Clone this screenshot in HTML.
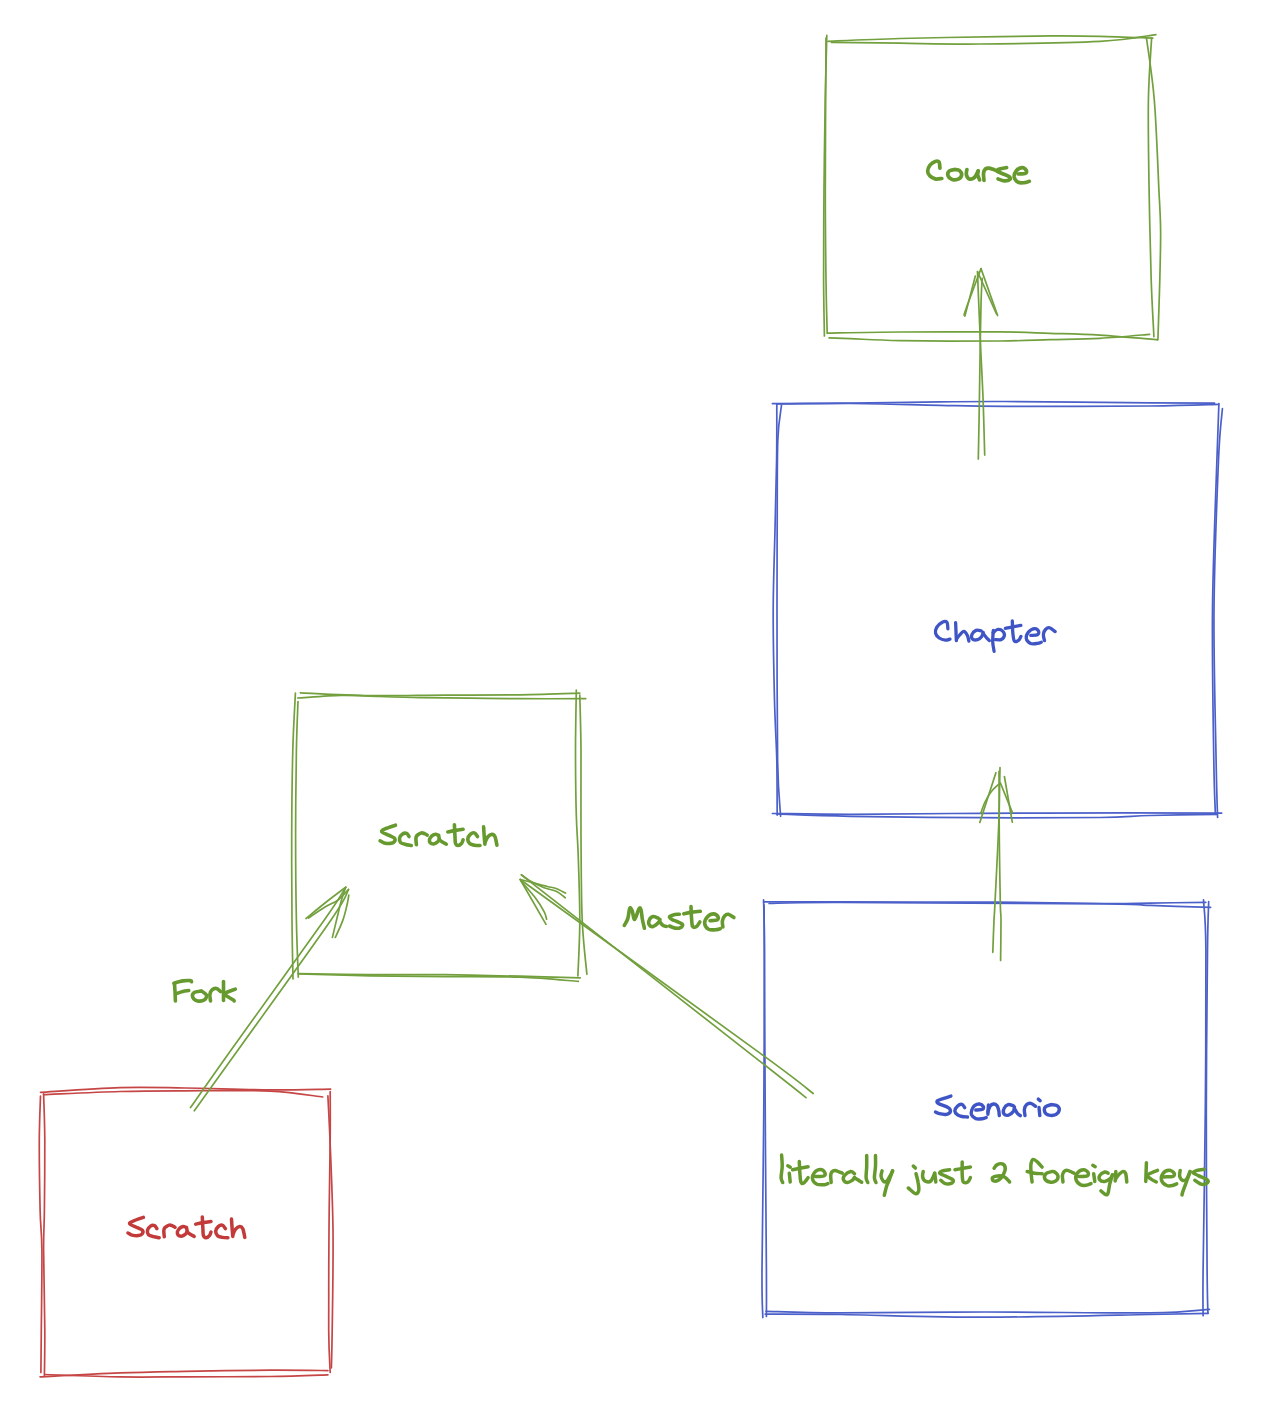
<!DOCTYPE html>
<html><head><meta charset="utf-8"><title>diagram</title>
<style>
html,body{margin:0;padding:0;background:#ffffff;}
body{width:1270px;height:1422px;overflow:hidden;}
svg{display:block;}
text{font-family:"Liberation Sans",sans-serif;}
</style></head>
<body>
<svg width="1270" height="1422" viewBox="0 0 1270 1422">
<rect width="1270" height="1422" fill="#ffffff"/>
<g fill="none" stroke-width="1.7" stroke-linecap="round" stroke-linejoin="round">
<path d="M827.9 41.3C839.9 40.8 871.3 39.3 900.0 38.5C928.7 37.7 975.0 37.0 1000.0 36.6C1025.0 36.2 1033.3 36.0 1050.0 35.9C1066.7 35.8 1082.9 35.9 1100.0 36.3C1117.1 36.7 1144.0 37.8 1152.8 38.1" stroke="#73a03e"/>
<path d="M831.5 42.4C842.9 42.5 875.3 42.9 900.0 43.2C924.7 43.5 946.2 44.3 979.5 44.0C1012.8 43.7 1070.6 42.9 1100.0 41.3C1129.4 39.7 1146.6 35.7 1155.9 34.6" stroke="#73a03e"/>
<path d="M826.8 35.4C826.5 46.2 825.7 74.2 825.2 100.0C824.7 125.8 824.3 160.0 824.0 190.0C823.7 220.0 823.5 255.7 823.6 280.0C823.7 304.3 824.3 326.6 824.4 335.9" stroke="#73a03e"/>
<path d="M826.0 38.0C825.9 63.3 825.3 149.7 825.3 190.0C825.3 230.3 825.7 256.1 826.0 280.0C826.3 303.9 827.0 324.6 827.2 333.5" stroke="#73a03e"/>
<path d="M1146.5 38.1C1147.8 48.4 1152.2 74.7 1154.3 100.0C1156.4 125.3 1157.9 168.4 1158.9 190.0C1160.0 211.6 1160.4 214.5 1160.6 229.5C1160.8 244.5 1160.2 261.6 1159.8 280.0C1159.3 298.4 1158.2 329.8 1157.9 339.8" stroke="#73a03e"/>
<path d="M1151.6 38.1C1151.1 48.4 1148.8 74.7 1148.4 100.0C1148.0 125.3 1148.6 160.0 1149.1 190.0C1149.6 220.0 1150.4 255.6 1151.2 280.0C1152.0 304.4 1153.5 327.2 1153.9 336.7" stroke="#73a03e"/>
<path d="M827.6 333.1C839.7 332.9 871.3 332.2 900.0 332.0C928.7 331.8 975.0 331.7 1000.0 331.9C1025.0 332.1 1033.3 332.8 1050.0 333.3C1066.7 333.8 1082.1 334.0 1100.0 335.1C1117.9 336.2 1147.9 339.0 1157.5 339.8" stroke="#73a03e"/>
<path d="M829.1 337.9C832.6 338.0 838.6 338.2 850.4 338.7C862.2 339.1 875.1 340.2 900.0 340.6C924.9 341.0 975.0 341.2 1000.0 341.0C1025.0 340.8 1033.3 340.1 1050.0 339.6C1066.7 339.2 1083.4 339.2 1100.0 338.3C1116.6 337.4 1141.3 335.0 1149.6 334.3" stroke="#73a03e"/>
<path d="M772.4 403.6C785.3 403.5 822.1 403.5 850.0 403.2C877.9 402.9 914.2 402.2 940.0 401.9C965.8 401.6 970.0 401.4 1005.0 401.5C1040.0 401.6 1115.1 402.5 1150.0 402.8C1184.9 403.1 1203.8 403.1 1214.6 403.2" stroke="#4c60c9"/>
<path d="M776.8 404.0C789.0 403.9 822.8 403.3 850.0 403.5C877.2 403.7 914.2 404.9 940.0 405.4C965.8 405.9 970.0 406.2 1005.0 406.3C1040.0 406.4 1114.4 406.3 1150.0 406.0C1185.6 405.7 1207.1 404.7 1218.5 404.4" stroke="#4c60c9"/>
<path d="M776.8 404.0C776.8 413.3 776.9 439.0 776.6 460.0C776.3 481.0 775.6 505.0 775.0 530.0C774.4 555.0 773.3 581.7 773.2 610.0C773.1 638.3 773.9 675.0 774.5 700.0C775.1 725.0 776.3 740.8 776.8 760.0C777.2 779.2 777.1 805.9 777.2 815.1" stroke="#4c60c9"/>
<path d="M781.5 405.2C780.9 411.0 778.5 420.9 777.8 440.0C777.1 459.1 777.3 491.7 777.2 520.0C777.1 548.3 776.9 570.0 777.0 610.0C777.1 650.0 777.0 725.6 777.6 760.0C778.2 794.4 780.1 806.9 780.6 816.3" stroke="#4c60c9"/>
<path d="M1218.9 403.6C1218.6 413.0 1218.0 425.6 1216.9 460.0C1215.8 494.4 1213.0 560.0 1212.5 610.0C1212.0 660.0 1213.3 726.0 1213.8 760.0C1214.3 794.0 1215.1 805.2 1215.4 814.3" stroke="#4c60c9"/>
<path d="M1222.4 408.7C1221.8 417.2 1219.9 426.4 1218.5 460.0C1217.1 493.6 1214.4 560.0 1214.0 610.0C1213.6 660.0 1215.5 725.4 1216.1 760.0C1216.7 794.6 1217.3 807.9 1217.6 817.5" stroke="#4c60c9"/>
<path d="M772.4 813.5C785.3 813.6 815.4 814.3 850.0 814.3C884.6 814.3 934.2 813.5 980.0 813.3C1025.8 813.1 1084.7 812.9 1125.0 812.9C1165.3 812.9 1205.6 813.1 1221.7 813.1" stroke="#4c60c9"/>
<path d="M776.8 814.0C789.0 814.4 816.1 815.7 850.0 816.3C883.9 816.9 938.3 817.5 980.0 817.7C1021.7 817.9 1071.7 817.9 1100.0 817.5C1128.3 817.1 1130.5 816.0 1150.0 815.5C1169.5 815.0 1205.8 814.5 1216.9 814.3" stroke="#4c60c9"/>
<path d="M300.3 692.8C311.9 693.3 345.9 695.2 370.0 695.6C394.1 696.0 420.0 695.2 445.0 695.1C470.0 695.0 497.5 695.1 520.0 694.8C542.5 694.5 569.8 693.5 579.8 693.2" stroke="#73a03e"/>
<path d="M297.6 698.0C304.8 697.6 328.8 695.7 340.9 695.4C353.0 695.1 356.8 695.8 370.0 696.2C383.2 696.6 403.3 697.3 420.0 697.6C436.7 697.9 453.3 698.0 470.0 698.2C486.7 698.4 500.7 698.6 520.0 698.7C539.3 698.8 574.8 698.7 585.7 698.7" stroke="#73a03e"/>
<path d="M295.4 693.2C295.0 702.7 293.4 726.4 292.8 750.0C292.2 773.6 291.8 806.7 291.7 835.0C291.6 863.3 291.8 896.0 292.0 920.0C292.2 944.0 292.8 969.2 293.0 979.0" stroke="#73a03e"/>
<path d="M298.0 701.5C297.7 709.6 296.8 727.8 296.4 750.0C296.0 772.2 295.6 806.7 295.6 835.0C295.6 863.3 295.9 896.3 296.4 920.0C296.8 943.7 298.0 967.6 298.3 977.1" stroke="#73a03e"/>
<path d="M576.3 690.1C576.2 700.1 575.5 729.2 575.5 750.0C575.5 770.8 575.8 797.5 576.3 815.0C576.8 832.5 577.6 837.5 578.2 855.0C578.8 872.5 579.8 899.9 579.8 920.0C579.8 940.1 578.2 966.6 577.9 975.9" stroke="#73a03e"/>
<path d="M579.8 695.2C580.0 704.3 580.8 726.7 581.0 750.0C581.2 773.3 580.8 806.7 581.0 835.0C581.2 863.3 581.2 896.8 582.2 920.0C583.2 943.2 586.1 965.2 586.9 974.3" stroke="#73a03e"/>
<path d="M298.3 973.5C310.2 973.7 345.6 974.4 370.0 974.6C394.4 974.8 420.0 974.4 445.0 974.7C470.0 975.0 497.5 975.7 520.0 976.2C542.5 976.7 570.2 977.6 580.2 977.9" stroke="#73a03e"/>
<path d="M298.3 974.0C310.2 974.3 345.6 975.4 370.0 975.8C394.4 976.2 420.0 976.4 445.0 976.6C470.0 976.8 497.8 976.4 520.0 977.2C542.2 978.0 568.6 980.7 578.3 981.4" stroke="#73a03e"/>
<path d="M763.6 901.9C776.3 901.9 801.4 901.8 840.0 901.9C878.6 902.0 950.8 901.9 995.0 902.2C1039.2 902.5 1079.2 903.4 1105.0 903.5C1130.8 903.6 1133.2 903.3 1150.0 903.1C1166.8 902.9 1196.6 902.4 1205.9 902.3" stroke="#4c60c9"/>
<path d="M769.1 903.5C780.9 903.3 784.0 902.4 840.0 902.5C896.0 902.6 1053.3 903.4 1105.0 903.9C1156.7 904.4 1132.4 904.8 1150.0 905.4C1167.6 906.0 1200.5 907.1 1210.6 907.4" stroke="#4c60c9"/>
<path d="M763.6 899.9C763.7 908.2 764.4 915.0 764.4 950.0C764.4 985.0 764.2 1056.7 763.8 1110.0C763.4 1163.3 762.2 1235.4 762.0 1270.0C761.8 1304.6 762.7 1309.7 762.8 1317.6" stroke="#4c60c9"/>
<path d="M764.0 905.0C764.1 912.5 764.2 915.8 764.4 950.0C764.6 984.2 764.9 1056.7 765.2 1110.0C765.5 1163.3 766.2 1235.6 766.4 1270.0C766.6 1304.4 766.4 1308.8 766.4 1316.5" stroke="#4c60c9"/>
<path d="M1203.5 899.9C1203.9 908.2 1205.6 915.0 1205.9 950.0C1206.2 985.0 1205.8 1056.7 1205.3 1110.0C1204.8 1163.3 1203.5 1235.7 1203.1 1270.0C1202.7 1304.3 1203.1 1308.1 1203.1 1315.7" stroke="#4c60c9"/>
<path d="M1208.7 901.5C1208.5 909.6 1207.9 915.2 1207.5 950.0C1207.1 984.8 1206.4 1056.7 1206.3 1110.0C1206.2 1163.3 1206.8 1236.1 1207.1 1270.0C1207.4 1303.9 1207.8 1306.1 1207.9 1313.3" stroke="#4c60c9"/>
<path d="M766.0 1311.3C778.3 1311.6 803.5 1312.8 840.0 1312.9C876.5 1313.0 933.3 1312.0 985.0 1312.0C1036.7 1312.0 1112.6 1313.3 1150.0 1312.9C1187.4 1312.5 1199.5 1310.0 1209.4 1309.4" stroke="#4c60c9"/>
<path d="M765.2 1314.1C777.7 1314.2 803.4 1314.0 840.0 1314.5C876.6 1315.0 933.3 1317.2 985.0 1317.2C1036.7 1317.2 1112.8 1315.2 1150.0 1314.5C1187.2 1313.8 1198.6 1313.5 1208.3 1313.3" stroke="#4c60c9"/>
<path d="M40.5 1092.3C53.8 1091.5 95.9 1088.3 120.0 1087.6C144.1 1086.9 160.0 1087.6 185.0 1088.0C210.0 1088.4 245.7 1089.7 270.0 1089.9C294.3 1090.1 320.5 1089.2 330.6 1089.1" stroke="#c64646"/>
<path d="M43.6 1094.6C56.3 1094.1 96.4 1092.1 120.0 1091.5C143.6 1090.9 160.0 1090.9 185.0 1090.8C210.0 1090.7 247.0 1090.1 270.0 1091.1C293.0 1092.1 314.0 1096.0 322.8 1097.0" stroke="#c64646"/>
<path d="M40.5 1096.2C40.3 1103.5 39.4 1121.0 39.3 1140.0C39.2 1159.0 39.7 1191.7 40.1 1210.0C40.5 1228.3 41.7 1230.0 41.9 1250.0C42.1 1270.0 41.5 1309.6 41.3 1330.0C41.1 1350.4 41.0 1365.4 40.9 1372.5" stroke="#c64646"/>
<path d="M43.6 1093.9C43.8 1101.6 44.7 1120.7 44.8 1140.0C44.9 1159.3 44.6 1191.7 44.4 1210.0C44.2 1228.3 43.5 1230.0 43.6 1250.0C43.7 1270.0 44.7 1309.0 44.8 1330.0C44.9 1351.0 44.5 1368.1 44.4 1375.7" stroke="#c64646"/>
<path d="M330.2 1091.5C330.2 1099.6 330.4 1116.9 330.2 1140.0C330.0 1163.1 329.2 1198.3 329.0 1230.0C328.8 1261.7 328.5 1306.2 328.7 1330.0C328.9 1353.8 329.9 1365.4 330.2 1372.5" stroke="#c64646"/>
<path d="M327.9 1095.8C328.2 1103.2 329.1 1117.6 330.0 1140.0C330.9 1162.4 332.6 1198.3 333.0 1230.0C333.4 1261.7 332.5 1307.0 332.2 1330.0C331.9 1353.0 331.5 1361.5 331.4 1367.8" stroke="#c64646"/>
<path d="M40.1 1376.9C53.4 1376.2 95.8 1373.8 120.0 1372.9C144.2 1372.0 160.0 1371.8 185.0 1371.3C210.0 1370.8 246.2 1370.3 270.0 1370.2C293.8 1370.1 318.2 1370.5 327.9 1370.6" stroke="#c64646"/>
<path d="M44.8 1374.5C57.3 1374.9 96.6 1376.5 120.0 1376.9C143.4 1377.3 160.0 1376.9 185.0 1376.8C210.0 1376.7 246.2 1376.8 270.0 1376.5C293.8 1376.2 318.2 1375.2 327.9 1374.9" stroke="#c64646"/>
<path d="M977.5 271.7C977.7 276.4 978.1 288.6 978.6 300.0C979.1 311.4 979.5 323.3 980.3 340.0C981.0 356.7 982.4 380.8 983.1 400.0C983.8 419.2 984.4 445.9 984.7 455.1" stroke="#73a03e"/>
<path d="M982.2 278.3C982.0 281.9 981.4 289.7 981.1 300.0C980.8 310.3 980.6 323.3 980.3 340.0C980.0 356.7 979.7 380.2 979.4 400.0C979.1 419.8 978.5 449.1 978.3 458.9" stroke="#73a03e"/>
<path d="M964.9 316.1L975.3 276.1" stroke="#73a03e"/>
<path d="M964.0 315.0C964.5 313.5 964.2 313.7 967.0 306.0C969.8 298.3 978.7 274.8 981.0 268.6" stroke="#73a03e"/>
<path d="M997.6 315.5L981.0 268.6" stroke="#73a03e"/>
<path d="M996.5 314.0L977.5 271.7" stroke="#73a03e"/>
<path d="M992.8 952.3C993.0 946.9 993.6 928.3 994.0 920.0C994.4 911.7 994.2 919.3 995.0 902.6C995.8 885.9 998.2 841.9 998.9 820.0C999.6 798.1 999.0 779.5 999.0 771.4" stroke="#73a03e"/>
<path d="M1000.6 960.5C1000.7 953.8 1001.0 929.6 1001.0 920.0C1001.0 910.4 1000.6 919.3 1000.3 902.6C1000.0 885.9 999.2 842.5 999.2 820.0C999.2 797.5 999.9 776.3 1000.0 767.6" stroke="#73a03e"/>
<path d="M979.8 822.4L995.9 772.7" stroke="#73a03e"/>
<path d="M980.8 813.0C981.5 811.2 983.3 805.5 985.0 802.0C986.7 798.5 988.7 795.0 991.0 792.0C993.3 789.0 997.7 785.3 999.0 784.0" stroke="#73a03e"/>
<path d="M1012.3 822.1L1004.4 776.5" stroke="#73a03e"/>
<path d="M1012.3 812.4L1000.3 782.8" stroke="#73a03e"/>
<path d="M190.5 1107.6C197.3 1098.0 208.8 1081.3 231.1 1050.0C253.4 1018.7 305.2 947.1 324.3 920.0C343.4 892.9 342.1 892.8 345.7 887.3" stroke="#73a03e"/>
<path d="M194.3 1110.8C201.6 1100.7 215.2 1081.8 238.0 1050.0C260.8 1018.2 312.6 946.8 331.0 920.0C349.4 893.2 345.6 894.6 348.5 889.5" stroke="#73a03e"/>
<path d="M306.0 918.5C309.2 915.9 318.4 908.2 325.0 903.0C331.6 897.8 342.2 889.9 345.7 887.3" stroke="#73a03e"/>
<path d="M308.5 918.0C311.2 916.2 320.1 910.0 325.0 907.0C329.9 904.0 333.9 903.1 337.8 900.2C341.7 897.3 346.7 891.3 348.5 889.5" stroke="#73a03e"/>
<path d="M332.4 937.4C333.3 933.5 336.5 920.2 338.0 914.0C339.5 907.8 340.2 904.5 341.5 900.0C342.8 895.5 345.0 889.4 345.7 887.3" stroke="#73a03e"/>
<path d="M335.3 937.4C336.6 934.6 340.9 925.8 342.8 920.4C344.8 915.0 346.0 909.2 347.0 905.0C348.0 900.8 348.5 896.8 348.8 895.2" stroke="#73a03e"/>
<path d="M813.2 1093.5C804.3 1086.8 808.8 1088.8 760.0 1053.1C711.2 1017.4 560.2 908.4 520.2 879.5" stroke="#73a03e"/>
<path d="M806.0 1097.6C798.3 1091.5 807.4 1098.4 760.0 1061.3C712.6 1024.2 561.2 905.9 521.4 874.8" stroke="#73a03e"/>
<path d="M520.2 879.5C521.9 879.9 525.7 880.8 530.2 882.0C534.7 883.2 543.0 885.5 547.2 886.5C551.4 887.5 552.4 887.2 555.4 888.3C558.4 889.4 563.8 892.3 565.5 893.1" stroke="#73a03e"/>
<path d="M521.4 874.8C522.9 875.8 526.4 879.0 530.2 881.1C534.0 883.2 539.7 886.0 544.1 887.7C548.5 889.4 553.2 889.8 556.7 891.5C560.2 893.2 563.8 896.8 565.2 897.8" stroke="#73a03e"/>
<path d="M520.2 879.5L546.0 924.3" stroke="#73a03e"/>
<path d="M521.0 881.0C523.4 883.8 531.4 892.7 535.3 897.8C539.1 902.9 542.2 908.1 544.1 911.7C546.0 915.3 546.2 918.0 546.6 919.2" stroke="#73a03e"/>
</g>
<g fill="none" stroke-width="3.7" stroke-linecap="round" stroke-linejoin="round">
<g stroke="#679a2e" stroke-width="3.7">
<path d="M939.9 168.1C939.8 167.1 939.8 163.0 939.0 161.9C938.2 160.8 936.7 160.9 935.2 161.4C933.7 161.9 931.2 163.6 930.0 165.2C928.8 166.8 927.8 169.2 927.7 170.9C927.6 172.6 928.4 174.3 929.6 175.6C930.9 176.9 933.2 178.4 935.2 178.9C937.2 179.4 940.7 178.6 941.8 178.5"/>
<path d="M955.1 169.5C954.1 169.7 950.6 169.9 949.4 170.9C948.2 171.9 947.5 174.2 948.0 175.6C948.5 177.0 950.4 178.8 952.2 179.4C954.0 180.0 957.2 179.7 958.8 178.9C960.4 178.1 961.6 176.1 961.7 174.7C961.8 173.3 960.4 171.3 959.3 170.4C958.2 169.5 955.8 169.7 955.1 169.5"/>
<path d="M966.9 169.5C966.8 170.4 966.0 173.1 966.4 174.7C966.8 176.3 967.9 178.4 969.2 178.9C970.5 179.4 972.9 178.8 974.4 177.5C975.9 176.2 977.6 172.0 978.2 170.9"/>
<path d="M978.2 170.9C978.1 171.5 977.5 173.2 977.7 174.7C977.9 176.2 979.3 179.0 979.6 179.9"/>
<path d="M984.0 180.3C983.9 179.1 983.3 175.2 983.5 173.3C983.7 171.4 984.4 169.9 985.4 169.0C986.4 168.1 987.6 167.9 989.2 168.1C990.8 168.3 993.9 169.7 994.8 170.0"/>
<path d="M1006.6 167.6C1005.4 167.8 1001.2 168.4 999.6 169.0C998.0 169.6 996.4 170.2 996.7 170.9C997.0 171.6 999.5 172.4 1001.5 173.3C1003.5 174.2 1007.6 175.6 1009.0 176.6C1010.4 177.6 1010.8 178.7 1010.0 179.4C1009.2 180.1 1006.3 180.9 1004.3 180.8C1002.3 180.7 999.1 179.2 998.1 178.9"/>
<path d="M1018.5 174.0C1019.7 173.9 1024.2 174.0 1025.5 173.4C1026.8 172.8 1026.8 171.2 1026.2 170.2C1025.6 169.2 1023.6 167.5 1022.0 167.6C1020.4 167.7 1017.8 168.9 1016.5 170.5C1015.2 172.1 1014.0 175.1 1014.2 177.0C1014.5 178.9 1016.4 181.2 1018.0 182.2C1019.6 183.1 1022.2 182.8 1024.1 182.7C1026.0 182.5 1028.4 181.5 1029.3 181.3"/>
</g>
<g stroke="#3f55c6" stroke-width="3.3">
<path d="M947.9 628.8C947.7 627.7 947.8 623.3 946.9 622.2C946.0 621.1 944.0 621.4 942.3 622.2C940.6 623.1 937.8 625.4 936.7 627.3C935.6 629.2 935.2 631.6 935.6 633.4C936.0 635.2 937.6 636.9 939.2 638.0C940.8 639.1 943.6 639.9 945.4 640.1C947.2 640.3 949.2 639.3 950.0 639.1"/>
<path d="M955.6 622.7C955.7 624.2 955.9 629.0 956.0 632.0C956.1 635.0 956.3 639.2 956.4 640.6"/>
<path d="M956.6 639.1C957.1 638.4 958.5 636.3 959.7 635.0C960.9 633.7 962.5 631.3 963.8 631.4C965.1 631.5 966.5 633.9 967.4 635.5C968.2 637.1 968.6 640.2 968.9 641.1"/>
<path d="M981.2 630.9C980.4 630.8 977.6 629.8 976.1 630.4C974.6 631.0 972.6 632.9 972.0 634.4C971.4 635.9 971.6 638.2 972.5 639.1C973.4 640.0 976.1 640.0 977.6 639.6C979.1 639.2 980.8 637.7 981.7 636.5C982.6 635.3 983.0 633.1 983.2 632.4"/>
<path d="M983.2 633.4C983.7 634.1 985.3 636.3 986.3 637.5C987.3 638.7 988.9 640.1 989.4 640.6"/>
<path d="M993.3 630.5C993.2 632.4 992.6 638.3 992.7 641.8C992.8 645.3 993.9 649.8 994.1 651.4"/>
<path d="M993.1 632.7C993.8 632.2 995.8 629.8 997.4 629.5C999.0 629.2 1001.6 630.0 1002.7 631.1C1003.9 632.2 1004.6 634.5 1004.3 635.9C1004.0 637.3 1002.6 639.0 1001.1 639.6C999.6 640.2 996.2 639.6 995.2 639.6"/>
<path d="M1012.3 620.9C1012.4 623.0 1012.5 630.3 1012.9 633.7C1013.3 637.1 1013.5 640.1 1014.5 641.2C1015.5 642.3 1017.7 641.0 1018.8 640.2C1019.9 639.4 1020.5 637.0 1020.9 636.4"/>
<path d="M1005.4 628.4C1006.7 628.1 1010.4 627.4 1013.0 626.9C1015.6 626.4 1019.6 625.6 1020.9 625.4"/>
<path d="M1030.8 635.3C1031.9 635.2 1036.2 635.5 1037.5 634.8C1038.8 634.1 1039.0 632.3 1038.6 631.3C1038.1 630.3 1036.5 628.5 1034.8 628.6C1033.1 628.7 1029.8 630.4 1028.4 632.1C1027.0 633.8 1026.0 636.7 1026.3 638.6C1026.6 640.5 1028.6 642.6 1030.5 643.4C1032.4 644.2 1035.7 643.6 1037.5 643.4C1039.3 643.2 1040.7 642.5 1041.3 642.3"/>
<path d="M1044.5 640.7C1044.3 639.6 1043.2 636.2 1043.4 634.3C1043.6 632.4 1044.4 630.6 1045.5 629.5C1046.6 628.4 1048.2 627.4 1049.8 627.8C1051.4 628.1 1054.3 631.0 1055.2 631.6"/>
</g>
<g stroke="#679a2e" stroke-width="3.6">
<path d="M395.5 825.2C394.2 825.6 390.0 826.9 387.8 827.8C385.6 828.7 383.1 829.6 382.2 830.4C381.3 831.2 381.5 831.5 382.7 832.4C383.9 833.2 387.4 834.6 389.3 835.5C391.2 836.4 393.5 837.0 394.4 838.0C395.2 839.0 395.1 840.7 394.4 841.6C393.7 842.5 392.1 843.2 390.4 843.4C388.7 843.6 385.9 843.3 384.2 842.9C382.5 842.5 380.8 841.1 380.1 840.8"/>
<path d="M409.0 836.5C408.6 836.0 407.8 833.8 406.7 833.4C405.6 833.0 403.8 833.1 402.6 833.9C401.4 834.7 399.9 836.5 399.6 838.0C399.3 839.5 399.6 841.5 400.6 842.6C401.6 843.7 403.9 843.9 405.7 844.4C407.5 844.9 410.4 845.3 411.3 845.5"/>
<path d="M416.4 844.6C416.3 843.7 415.9 840.4 415.9 839.0C415.9 837.6 416.2 836.7 416.6 836.0C417.0 835.3 417.3 835.1 418.1 834.6C418.9 834.1 420.2 833.1 421.3 832.9C422.4 832.7 423.5 833.2 424.5 833.6C425.5 834.0 426.8 834.9 427.2 835.1"/>
<path d="M438.6 835.3C438.0 835.1 436.4 834.1 435.2 834.3C434.0 834.4 432.6 835.3 431.6 836.2C430.7 837.1 429.7 838.4 429.5 839.5C429.3 840.6 429.5 842.0 430.2 842.8C430.9 843.5 432.4 844.1 433.6 844.0C434.8 843.9 436.3 843.0 437.2 842.2C438.1 841.5 439.0 840.6 439.2 839.5C439.4 838.4 438.7 836.0 438.6 835.3"/>
<path d="M439.2 839.5C439.7 839.9 440.8 841.0 442.0 841.8C443.2 842.6 445.6 843.8 446.3 844.2"/>
<path d="M454.4 824.7C454.5 826.7 454.8 833.4 455.0 836.5C455.2 839.6 455.0 841.7 455.5 843.2C456.0 844.7 457.0 845.5 458.0 845.5C459.0 845.5 460.6 844.5 461.5 843.5C462.4 842.5 462.8 840.4 463.1 839.8"/>
<path d="M447.8 831.9C449.1 831.6 452.9 830.8 455.5 830.4C458.1 830.0 461.8 829.5 463.1 829.3"/>
<path d="M477.5 836.5C477.0 835.9 475.6 833.2 474.4 832.9C473.2 832.5 471.4 833.4 470.3 834.4C469.2 835.4 467.9 837.5 467.8 839.0C467.7 840.5 468.7 842.7 469.8 843.7C470.9 844.7 472.7 844.9 474.4 845.2C476.1 845.5 479.1 845.5 480.0 845.5"/>
<path d="M483.6 826.8C483.7 828.3 484.0 833.1 484.2 836.0C484.4 838.9 484.8 842.8 484.9 844.2"/>
<path d="M484.9 842.6C485.4 841.7 486.5 838.4 487.7 837.0C488.9 835.6 490.6 834.5 491.8 834.4C493.0 834.3 494.0 834.7 494.9 836.5C495.8 838.3 496.6 843.8 496.9 845.2"/>
</g>
<g stroke="#679a2e" stroke-width="3.6">
<path d="M173.9 983.2C175.4 982.8 180.1 981.3 182.8 980.9C185.6 980.5 188.9 980.5 190.4 980.6C191.9 980.7 191.4 981.5 191.6 981.7"/>
<path d="M174.5 983.8C174.6 985.3 174.9 989.9 175.1 992.7C175.2 995.6 175.3 999.5 175.4 1000.9"/>
<path d="M175.7 993.9C176.9 993.5 180.6 992.0 182.8 991.5C185.0 991.0 187.7 990.8 188.7 990.6"/>
<path d="M201.1 990.9C199.9 991.2 195.4 991.6 194.0 992.7C192.6 993.8 192.2 996.0 192.8 997.4C193.4 998.8 195.5 1000.5 197.5 1000.9C199.5 1001.3 203.1 1000.8 204.6 999.8C206.1 998.8 206.8 996.4 206.4 995.0C206.0 993.6 203.0 992.1 202.3 991.5"/>
<path d="M210.5 1000.9C210.4 999.8 209.6 996.3 209.9 994.4C210.2 992.5 211.2 990.7 212.3 989.7C213.4 988.7 215.0 988.2 216.4 988.5C217.8 988.8 219.9 991.0 220.6 991.5"/>
<path d="M223.5 981.5C223.5 983.1 223.5 987.9 223.5 991.0C223.5 994.1 223.5 998.8 223.5 1000.4"/>
<path d="M235.3 989.1C234.2 989.5 230.7 990.7 228.8 991.5C226.9 992.3 224.4 993.1 224.1 993.9C223.8 994.7 225.6 995.2 227.1 996.2C228.6 997.2 231.8 999.0 233.0 999.8C234.2 1000.6 234.0 1000.7 234.2 1000.9"/>
</g>
<g stroke="#679a2e" stroke-width="3.6">
<path d="M624.3 925.4C624.9 924.3 626.9 921.5 627.8 918.6C628.7 915.8 629.0 909.6 629.7 908.3C630.4 907.0 631.4 908.8 632.2 910.7C633.0 912.6 633.5 919.8 634.6 919.5C635.7 919.2 637.9 910.4 639.0 908.8C640.1 907.2 640.4 908.0 641.0 909.8C641.6 911.6 641.8 916.4 642.4 919.5C643.0 922.6 644.1 926.8 644.4 928.3"/>
<path d="M658.0 918.1C657.2 917.9 654.7 916.3 653.2 916.6C651.8 916.9 649.9 918.6 649.3 920.0C648.6 921.4 648.6 923.8 649.3 924.9C649.9 926.0 651.7 926.8 653.2 926.4C654.7 926.0 657.4 923.6 658.5 922.5C659.6 921.4 659.8 920.0 660.0 919.5"/>
<path d="M659.5 921.5C660.1 922.1 661.8 924.6 662.9 925.4C664.0 926.2 665.7 926.2 666.3 926.4"/>
<path d="M679.4 914.3C678.7 914.3 676.6 914.1 675.0 914.5C673.4 914.9 670.0 916.0 669.5 916.8C669.0 917.6 670.8 918.7 672.0 919.5C673.2 920.3 675.2 920.7 677.0 921.5C678.8 922.3 681.9 923.5 682.5 924.5C683.1 925.5 681.8 927.0 680.5 927.6C679.2 928.2 676.8 928.4 675.0 928.1C673.2 927.8 670.4 926.4 669.5 926.0"/>
<path d="M691.0 906.6C691.1 908.4 691.2 914.3 691.5 917.6C691.8 920.9 691.8 925.0 692.6 926.5C693.4 928.0 695.3 927.2 696.5 926.5C697.7 925.8 699.2 922.8 699.8 922.0"/>
<path d="M683.8 913.8C685.2 913.5 689.2 912.5 692.0 912.1C694.8 911.7 698.9 911.4 700.3 911.3"/>
<path d="M710.0 920.7C711.2 920.6 715.9 920.5 717.2 919.9C718.5 919.2 718.6 917.8 718.0 916.8C717.4 915.8 715.2 913.9 713.5 913.9C711.8 913.9 709.0 915.2 707.5 916.8C706.0 918.4 704.5 921.4 704.7 923.5C704.9 925.6 706.9 928.2 708.6 929.2C710.4 930.2 713.3 929.9 715.2 929.8C717.1 929.7 719.4 928.9 720.2 928.7"/>
<path d="M722.9 927.0C722.8 926.0 722.1 922.7 722.4 920.9C722.7 919.1 723.6 917.1 724.6 916.0C725.6 914.9 726.9 914.0 728.4 914.3C729.9 914.6 733.0 917.0 733.9 917.6"/>
</g>
<g stroke="#3f55c6" stroke-width="3.4">
<path d="M950.9 1096.1C949.7 1096.5 946.1 1097.5 943.8 1098.3C941.5 1099.1 938.0 1100.1 937.2 1101.0C936.4 1101.9 937.0 1102.7 938.8 1103.8C940.6 1104.9 946.3 1106.3 948.2 1107.6C950.1 1108.9 950.7 1110.4 950.4 1111.5C950.1 1112.6 948.3 1113.9 946.5 1114.3C944.7 1114.7 941.2 1114.1 939.4 1113.7C937.6 1113.3 936.1 1112.3 935.5 1112.0"/>
<path d="M964.7 1107.6C964.2 1107.0 963.2 1104.6 962.0 1104.3C960.8 1104.0 958.8 1104.9 957.6 1106.0C956.4 1107.1 954.8 1109.4 954.8 1110.9C954.8 1112.4 956.4 1113.9 957.6 1114.8C958.8 1115.7 960.4 1116.1 962.0 1116.5C963.6 1116.9 966.6 1116.9 967.5 1117.0"/>
<path d="M975.8 1110.0C976.9 1109.9 981.4 1109.9 982.6 1109.3C983.8 1108.7 983.7 1107.2 983.2 1106.3C982.7 1105.4 981.0 1104.1 979.5 1104.0C978.0 1103.9 975.8 1104.7 974.5 1105.7C973.2 1106.7 972.3 1108.5 971.8 1110.0C971.3 1111.5 970.8 1113.3 971.5 1114.8C972.2 1116.2 974.0 1118.0 975.8 1118.7C977.6 1119.4 980.7 1118.9 982.4 1118.7C984.1 1118.5 985.6 1117.8 986.2 1117.6"/>
<path d="M988.4 1104.9C988.4 1105.8 988.2 1108.4 988.1 1110.0C988.0 1111.6 987.9 1113.6 987.9 1114.3"/>
<path d="M987.9 1112.0C988.2 1111.0 989.1 1107.6 990.0 1106.3C990.9 1105.0 992.3 1104.1 993.5 1104.0C994.7 1103.9 996.1 1104.6 997.0 1105.7C997.9 1106.8 998.3 1108.8 998.7 1110.4C999.1 1112.1 999.2 1114.7 999.3 1115.6"/>
<path d="M1013.3 1105.7C1012.4 1105.5 1009.6 1104.1 1008.1 1104.6C1006.6 1105.1 1004.7 1107.0 1004.0 1108.6C1003.3 1110.1 1003.2 1112.8 1004.0 1113.9C1004.8 1115.0 1007.1 1115.5 1008.6 1115.1C1010.1 1114.7 1012.3 1113.0 1013.3 1111.6C1014.3 1110.2 1014.3 1107.7 1014.5 1106.9"/>
<path d="M1014.5 1108.6C1015.0 1109.4 1016.4 1112.1 1017.4 1113.3C1018.4 1114.5 1019.8 1115.2 1020.3 1115.6"/>
<path d="M1025.0 1115.6C1024.9 1114.5 1024.1 1111.0 1024.4 1109.2C1024.7 1107.4 1025.6 1105.6 1026.7 1104.6C1027.8 1103.6 1029.3 1103.1 1030.8 1103.4C1032.3 1103.7 1034.7 1105.8 1035.5 1106.3"/>
<path d="M1038.3 1099.1L1040.2 1100.7"/>
<path d="M1039.0 1107.5L1039.8 1115.6"/>
<path d="M1051.2 1104.6C1050.2 1105.0 1046.5 1105.7 1045.4 1106.9C1044.3 1108.2 1044.2 1110.7 1044.8 1112.1C1045.4 1113.5 1047.1 1114.7 1048.9 1115.1C1050.8 1115.5 1054.2 1115.4 1055.9 1114.5C1057.6 1113.6 1059.1 1111.3 1059.3 1109.8C1059.5 1108.3 1058.3 1106.6 1057.0 1105.7C1055.7 1104.8 1052.2 1104.8 1051.2 1104.6"/>
</g>
<g stroke="#679a2e" stroke-width="3.5">
<path d="M781.6 1155.0C781.7 1156.9 782.3 1162.7 782.2 1166.5C782.1 1170.3 781.0 1174.9 781.1 1177.6C781.2 1180.3 782.4 1181.7 782.7 1182.5"/>
<path d="M787.8 1165.8L790.3 1167.2"/>
<path d="M789.3 1173.2L790.2 1182.0"/>
<path d="M799.3 1161.6C799.4 1163.3 799.5 1168.6 799.8 1172.0C800.1 1175.4 800.2 1180.2 800.9 1182.0C801.5 1183.8 802.5 1183.8 803.7 1183.1C804.9 1182.4 807.4 1178.5 808.1 1177.6"/>
<path d="M792.6 1169.8C793.8 1169.5 797.2 1168.7 799.8 1168.2C802.4 1167.7 806.7 1167.0 808.1 1166.8"/>
<path d="M815.8 1176.6C817.1 1176.5 822.3 1176.7 823.8 1176.0C825.3 1175.3 825.3 1173.6 824.8 1172.5C824.2 1171.4 822.2 1169.6 820.5 1169.6C818.8 1169.6 815.8 1170.9 814.5 1172.5C813.2 1174.1 812.1 1177.0 812.5 1179.0C812.9 1181.0 814.9 1183.2 816.9 1184.2C818.9 1185.2 822.8 1184.8 824.6 1184.7C826.4 1184.6 827.4 1183.8 827.9 1183.6"/>
<path d="M831.2 1182.5C831.1 1181.3 830.6 1177.2 830.7 1175.4C830.8 1173.7 831.1 1172.8 831.8 1172.0C832.5 1171.2 833.4 1170.2 835.1 1170.4C836.9 1170.6 841.1 1172.7 842.3 1173.2"/>
<path d="M854.5 1173.7C853.9 1173.3 852.4 1171.2 850.7 1171.5C849.1 1171.8 845.8 1174.0 844.6 1175.4C843.4 1176.8 843.0 1178.6 843.5 1179.8C844.0 1181.0 845.9 1182.4 847.4 1182.5C848.9 1182.6 851.1 1181.1 852.3 1180.3C853.5 1179.5 854.1 1178.0 854.5 1177.6"/>
<path d="M854.5 1177.6C855.0 1178.0 856.6 1179.0 857.8 1179.8C859.0 1180.6 861.1 1181.8 861.7 1182.2"/>
<path d="M866.7 1155.5C866.7 1157.3 866.8 1162.8 866.7 1166.5C866.6 1170.2 865.9 1174.9 866.1 1177.6C866.3 1180.3 867.5 1181.7 867.8 1182.5"/>
<path d="M875.5 1155.5C875.5 1157.3 875.7 1162.8 875.5 1166.5C875.3 1170.2 874.3 1174.9 874.4 1177.6C874.5 1180.3 875.7 1181.7 876.0 1182.5"/>
<path d="M882.1 1170.9C881.9 1171.7 880.8 1174.2 881.0 1175.9C881.2 1177.6 882.3 1180.0 883.2 1180.9C884.1 1181.8 885.3 1182.3 886.5 1181.4C887.7 1180.5 889.4 1177.2 890.4 1175.4C891.4 1173.7 892.2 1171.7 892.6 1170.9"/>
<path d="M892.6 1170.9C892.0 1172.4 890.3 1177.2 889.3 1179.8C888.3 1182.4 887.3 1183.8 886.5 1186.4C885.7 1189.0 884.7 1193.7 884.3 1195.2"/>
<path d="M913.3 1166.0L915.4 1168.1"/>
<path d="M916.0 1173.7C916.4 1175.3 917.8 1180.2 918.2 1183.1C918.7 1185.9 919.2 1189.0 918.7 1190.8C918.2 1192.5 917.1 1194.1 915.4 1193.6C913.7 1193.1 909.5 1188.9 908.3 1188.0"/>
<path d="M923.2 1171.5C923.1 1172.4 922.2 1175.3 922.6 1177.0C923.0 1178.7 924.5 1180.8 925.9 1181.4C927.3 1182.1 929.4 1182.3 930.9 1180.9C932.4 1179.5 934.1 1174.5 934.7 1173.2"/>
<path d="M934.7 1173.2C934.8 1173.9 935.1 1176.1 935.3 1177.6C935.5 1179.1 935.7 1181.3 935.8 1182.0"/>
<path d="M949.6 1169.8C948.4 1170.0 944.0 1170.3 942.4 1170.9C940.8 1171.5 939.2 1172.4 939.7 1173.2C940.2 1174.0 943.0 1174.8 945.2 1175.9C947.4 1177.0 951.8 1178.6 952.9 1179.8C954.0 1181.0 953.1 1182.5 951.8 1183.1C950.5 1183.7 947.0 1184.1 945.2 1183.6C943.4 1183.1 941.5 1180.8 940.8 1180.3"/>
<path d="M962.2 1162.1C962.2 1164.2 962.0 1171.5 962.2 1174.8C962.4 1178.1 962.4 1180.8 963.3 1182.0C964.2 1183.2 966.5 1182.7 967.7 1182.0C968.9 1181.3 970.0 1178.3 970.4 1177.6"/>
<path d="M955.0 1169.8C956.2 1169.6 959.9 1168.9 962.5 1168.4C965.1 1168.0 969.1 1167.3 970.4 1167.1"/>
<path d="M994.1 1168.2C994.6 1167.7 995.6 1165.6 996.9 1164.9C998.2 1164.2 1000.5 1163.3 1001.9 1163.8C1003.3 1164.2 1004.9 1165.8 1005.2 1167.6C1005.5 1169.3 1004.5 1172.3 1003.5 1174.3C1002.5 1176.3 1000.8 1178.7 999.1 1179.8C997.5 1180.9 994.7 1181.3 993.6 1180.9C992.5 1180.5 991.8 1178.4 992.5 1177.6C993.2 1176.8 996.0 1176.0 998.0 1175.9C1000.0 1175.8 1002.7 1176.0 1004.6 1177.0C1006.5 1178.0 1008.8 1181.2 1009.6 1182.0"/>
<path d="M1042.1 1167.1C1041.3 1166.3 1039.1 1163.4 1037.6 1162.1C1036.1 1160.8 1034.3 1159.1 1033.2 1159.4C1032.1 1159.7 1031.4 1161.7 1031.0 1163.8C1030.6 1165.9 1030.8 1169.0 1031.0 1172.0C1031.2 1175.0 1031.9 1180.3 1032.1 1182.0"/>
<path d="M1027.2 1171.5C1028.4 1171.8 1031.8 1172.8 1034.3 1173.2C1036.8 1173.6 1040.8 1173.6 1042.1 1173.7"/>
<path d="M1052.0 1171.5C1051.0 1171.9 1047.1 1172.5 1045.9 1173.7C1044.7 1174.9 1044.2 1177.3 1044.8 1178.7C1045.4 1180.1 1048.0 1181.6 1049.8 1182.0C1051.6 1182.4 1054.4 1181.9 1055.8 1180.9C1057.2 1179.9 1058.2 1177.4 1058.0 1175.9C1057.8 1174.4 1055.7 1172.7 1054.7 1172.0C1053.7 1171.3 1052.5 1171.6 1052.0 1171.5"/>
<path d="M1063.0 1182.0C1062.9 1180.9 1062.2 1177.2 1062.4 1175.4C1062.6 1173.7 1063.3 1172.3 1064.1 1171.5C1064.9 1170.7 1065.8 1170.1 1067.4 1170.4C1069.1 1170.7 1072.9 1172.7 1074.0 1173.2"/>
<path d="M1079.3 1176.5C1080.6 1176.4 1085.8 1176.6 1087.3 1175.9C1088.8 1175.2 1088.6 1173.3 1088.0 1172.3C1087.4 1171.3 1085.2 1169.7 1083.5 1169.8C1081.8 1169.9 1078.8 1171.2 1077.5 1172.8C1076.2 1174.4 1075.5 1177.5 1076.0 1179.5C1076.5 1181.5 1078.8 1183.7 1080.5 1184.7C1082.2 1185.7 1084.2 1185.5 1086.0 1185.3C1087.8 1185.1 1090.2 1183.9 1091.0 1183.6"/>
<path d="M1092.8 1165.3L1095.2 1166.7"/>
<path d="M1093.7 1173.7L1094.8 1181.4"/>
<path d="M1108.1 1173.2C1107.5 1173.0 1106.2 1171.6 1104.8 1172.0C1103.4 1172.4 1100.6 1174.1 1099.8 1175.4C1099.0 1176.7 1099.0 1178.8 1099.8 1179.8C1100.6 1180.8 1103.0 1181.6 1104.8 1181.4C1106.5 1181.2 1109.0 1179.8 1110.3 1178.7C1111.6 1177.6 1112.1 1175.5 1112.5 1174.8"/>
<path d="M1112.5 1174.8C1112.0 1176.4 1110.4 1181.2 1109.7 1184.2C1109.0 1187.2 1108.7 1191.2 1108.1 1193.0C1107.5 1194.8 1107.1 1195.1 1105.9 1194.7C1104.7 1194.3 1101.7 1191.5 1100.9 1190.8"/>
<path d="M1115.8 1171.5C1115.8 1172.2 1115.6 1174.4 1115.5 1176.0C1115.4 1177.6 1115.2 1180.1 1115.2 1180.9"/>
<path d="M1115.8 1178.7C1116.3 1178.0 1117.9 1175.5 1119.1 1174.3C1120.3 1173.1 1121.9 1171.6 1123.0 1171.5C1124.1 1171.4 1125.1 1172.0 1125.7 1173.7C1126.3 1175.5 1126.6 1180.6 1126.8 1182.0"/>
<path d="M1146.4 1162.8C1146.4 1164.3 1146.2 1168.9 1146.1 1172.0C1146.0 1175.1 1145.8 1179.9 1145.8 1181.5"/>
<path d="M1157.5 1170.4C1156.5 1170.8 1153.5 1171.8 1151.7 1172.7C1150.0 1173.6 1147.1 1174.5 1147.0 1175.6C1146.9 1176.7 1149.5 1178.0 1151.1 1179.1C1152.6 1180.2 1155.4 1181.5 1156.3 1182.0"/>
<path d="M1164.3 1176.9C1165.8 1176.8 1171.5 1177.0 1173.1 1176.3C1174.7 1175.6 1174.7 1174.0 1174.0 1173.0C1173.3 1172.0 1170.8 1170.2 1169.0 1170.3C1167.2 1170.4 1164.2 1171.8 1163.0 1173.5C1161.8 1175.2 1161.0 1178.5 1161.6 1180.5C1162.2 1182.5 1165.0 1184.7 1166.8 1185.5C1168.6 1186.3 1170.9 1185.8 1172.6 1185.5C1174.2 1185.2 1176.0 1184.1 1176.7 1183.8"/>
<path d="M1180.2 1170.4C1180.1 1171.4 1179.2 1174.6 1179.6 1176.2C1180.0 1177.8 1181.3 1179.8 1182.5 1180.3C1183.7 1180.8 1185.3 1180.5 1186.6 1179.1C1187.9 1177.6 1189.5 1172.8 1190.1 1171.6"/>
<path d="M1190.1 1171.6C1189.5 1173.2 1187.8 1178.3 1186.6 1181.5C1185.4 1184.7 1183.9 1188.6 1183.1 1190.8C1182.3 1193.0 1182.2 1194.2 1182.0 1194.9"/>
<path d="M1204.1 1169.2C1202.9 1169.4 1198.9 1169.8 1197.1 1170.4C1195.2 1171.0 1192.8 1171.8 1193.0 1172.7C1193.2 1173.6 1196.0 1174.4 1198.3 1175.6C1200.6 1176.8 1205.5 1178.5 1207.0 1179.7C1208.5 1180.9 1208.5 1181.8 1207.6 1182.6C1206.7 1183.4 1203.9 1184.8 1201.8 1184.4C1199.7 1184.0 1196.0 1181.0 1194.8 1180.3"/>
</g>
<g stroke="#c23a3a" stroke-width="3.5">
<path d="M143.4 1217.4C142.1 1217.8 137.9 1219.1 135.7 1220.0C133.5 1220.9 130.9 1221.8 130.1 1222.6C129.2 1223.4 129.4 1223.8 130.6 1224.6C131.8 1225.4 135.3 1226.8 137.2 1227.7C139.2 1228.6 141.4 1229.2 142.3 1230.2C143.1 1231.2 143.0 1232.9 142.3 1233.8C141.6 1234.7 140.0 1235.4 138.3 1235.6C136.6 1235.8 133.8 1235.5 132.1 1235.1C130.4 1234.7 128.7 1233.3 128.0 1233.0"/>
<path d="M156.9 1228.7C156.5 1228.2 155.7 1226.0 154.6 1225.6C153.5 1225.2 151.7 1225.3 150.5 1226.1C149.3 1226.9 147.8 1228.8 147.5 1230.2C147.2 1231.7 147.5 1233.7 148.5 1234.8C149.5 1235.9 151.8 1236.1 153.6 1236.6C155.4 1237.1 158.3 1237.5 159.2 1237.7"/>
<path d="M164.3 1236.8C164.2 1235.9 163.8 1232.6 163.8 1231.2C163.8 1229.8 164.1 1228.9 164.5 1228.2C164.9 1227.5 165.2 1227.3 166.0 1226.8C166.8 1226.3 168.1 1225.3 169.2 1225.1C170.3 1224.9 171.4 1225.4 172.4 1225.8C173.4 1226.2 174.7 1227.0 175.1 1227.3"/>
<path d="M186.5 1227.5C185.9 1227.3 184.3 1226.3 183.1 1226.5C181.9 1226.7 180.5 1227.5 179.5 1228.4C178.6 1229.3 177.6 1230.6 177.4 1231.7C177.2 1232.8 177.4 1234.2 178.1 1235.0C178.8 1235.8 180.3 1236.3 181.5 1236.2C182.7 1236.1 184.2 1235.2 185.1 1234.4C186.0 1233.7 186.9 1232.9 187.1 1231.7C187.3 1230.5 186.6 1228.2 186.5 1227.5"/>
<path d="M187.1 1231.7C187.6 1232.1 188.7 1233.2 189.9 1234.0C191.1 1234.8 193.5 1236.0 194.2 1236.4"/>
<path d="M202.3 1216.9C202.4 1218.9 202.7 1225.6 202.9 1228.7C203.1 1231.8 202.9 1233.9 203.4 1235.4C203.9 1236.9 204.9 1237.7 205.9 1237.7C206.9 1237.8 208.6 1236.7 209.4 1235.7C210.2 1234.8 210.7 1232.6 211.0 1232.0"/>
<path d="M195.7 1224.1C197.0 1223.8 200.8 1223.0 203.4 1222.6C206.0 1222.2 209.7 1221.7 211.0 1221.5"/>
<path d="M225.4 1228.7C224.9 1228.1 223.5 1225.4 222.3 1225.1C221.1 1224.8 219.3 1225.6 218.2 1226.6C217.1 1227.6 215.8 1229.7 215.7 1231.2C215.6 1232.8 216.6 1234.9 217.7 1235.9C218.8 1236.9 220.6 1237.1 222.3 1237.4C224.0 1237.7 227.0 1237.7 227.9 1237.7"/>
<path d="M231.5 1219.0C231.6 1220.5 231.9 1225.3 232.1 1228.2C232.3 1231.1 232.7 1235.0 232.8 1236.4"/>
<path d="M232.8 1234.8C233.3 1233.9 234.4 1230.6 235.6 1229.2C236.8 1227.8 238.5 1226.7 239.7 1226.6C240.9 1226.5 241.9 1226.9 242.8 1228.7C243.6 1230.5 244.5 1236.0 244.8 1237.4"/>
</g>
</g>
</svg>
</body></html>
